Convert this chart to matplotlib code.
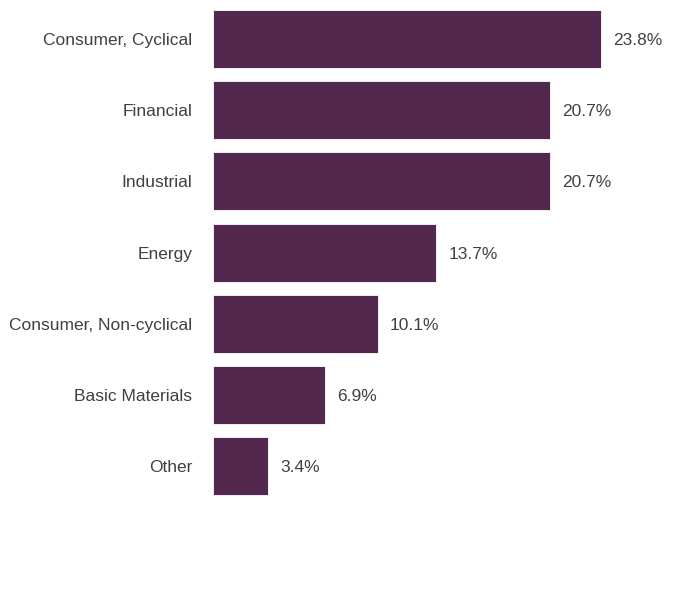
import matplotlib
matplotlib.use("Agg")
import matplotlib.pyplot as plt
from matplotlib import font_manager

categories = ["Consumer, Cyclical", "Financial", "Industrial", "Energy",
              "Consumer, Non-cyclical", "Basic Materials", "Other"]
values = [23.8, 20.7, 20.7, 13.7, 10.1, 6.9, 3.4]
labels = ["23.8%", "20.7%", "20.7%", "13.7%", "10.1%", "6.9%", "3.4%"]

names = {f.name for f in font_manager.fontManager.ttflist}
narrow = 'Liberation Sans Narrow' in names
plt.rcParams['font.family'] = ['Liberation Sans Narrow', 'Liberation Sans', 'DejaVu Sans'] if narrow else ['Liberation Sans', 'DejaVu Sans']
fs = 14.5 if narrow else 12.5

W, H = 696, 600
fig = plt.figure(figsize=(W / 100, H / 100), dpi=100)
left_px, right_px = 213, 669
ax = fig.add_axes([left_px / W, 0, (right_px - left_px) / W, 1])

ypos = list(range(len(categories)))
ax.barh(ypos, values, height=0.815, color="#52284e", edgecolor="#ffffff", linewidth=0.6)
ax.set_xlim(0, (right_px - left_px) / 16.3)
ax.set_ylim((H - 39) / 71.2, -39 / 71.2)
ax.set_yticks(ypos)
ax.set_yticklabels(categories, fontsize=fs, color="#404040", va="center_baseline")
ax.tick_params(axis='y', length=0, pad=15)
ax.set_xticks([])
for s in ax.spines.values():
    s.set_visible(False)
for y, v, t in zip(ypos, values, labels):
    ax.annotate(t, (v, y), xytext=(12, 0), textcoords="offset pixels",
                va="center_baseline", ha="left", fontsize=fs, color="#404040")

fig.savefig("out.png", dpi=100)
